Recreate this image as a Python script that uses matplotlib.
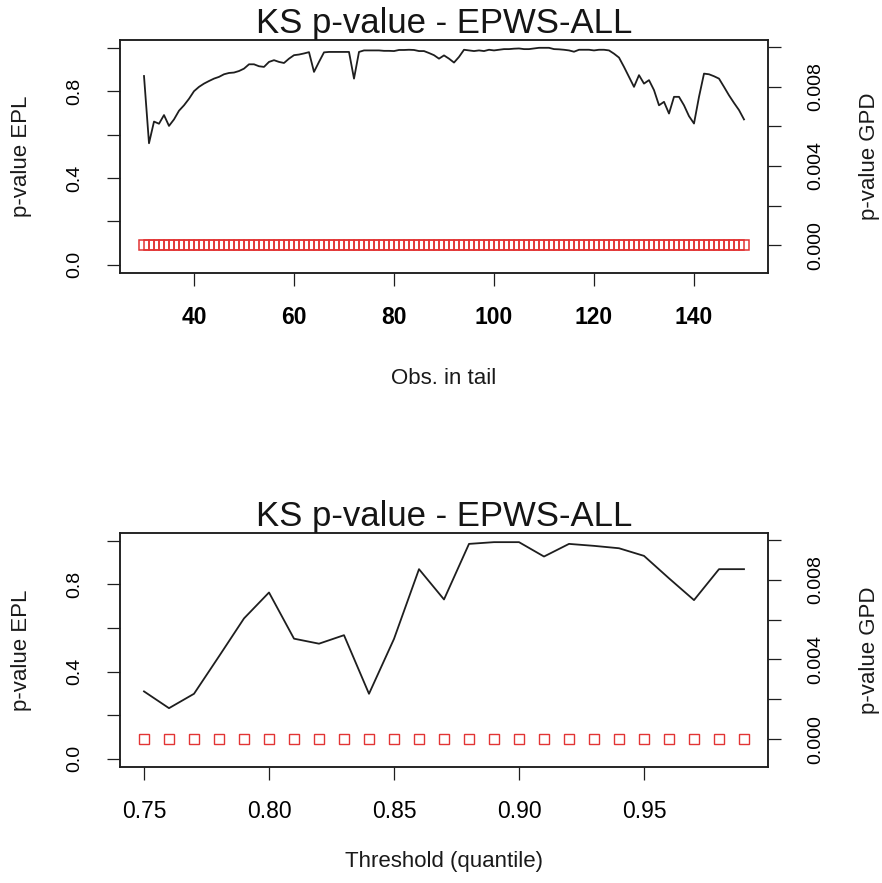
import matplotlib
matplotlib.use("Agg")
import matplotlib.pyplot as plt

plt.rcParams["font.family"] = ["Liberation Sans", "DejaVu Sans"]

# ---- data ----
obs_tail = list(range(30, 151))
epl_obs = [0.87, 0.56, 0.66, 0.65, 0.69, 0.64, 0.67, 0.71, 0.735, 0.765,
           0.80, 0.82, 0.835, 0.847, 0.858, 0.866, 0.878, 0.884, 0.886, 0.893,
           0.904, 0.924, 0.924, 0.915, 0.912, 0.935, 0.943, 0.935, 0.930, 0.950,
           0.966, 0.969, 0.974, 0.980, 0.889, 0.935, 0.979, 0.981, 0.981, 0.981,
           0.981, 0.981, 0.858, 0.981, 0.988, 0.988, 0.988, 0.988, 0.986, 0.986,
           0.985, 0.990, 0.990, 0.991, 0.990, 0.985, 0.985, 0.976, 0.966, 0.950,
           0.965, 0.950, 0.932, 0.958, 0.991, 0.988, 0.985, 0.988, 0.985, 0.991,
           0.988, 0.991, 0.994, 0.994, 0.996, 0.997, 0.994, 0.994, 0.997, 1.000,
           1.000, 1.000, 0.994, 0.993, 0.991, 0.988, 0.982, 0.991, 0.991, 0.991,
           0.988, 0.991, 0.991, 0.988, 0.973, 0.955, 0.912, 0.866, 0.820, 0.874,
           0.835, 0.851, 0.805, 0.735, 0.751, 0.697, 0.774, 0.774, 0.735, 0.685,
           0.651, 0.774, 0.881, 0.878, 0.869, 0.858, 0.820, 0.781, 0.746, 0.713,
           0.670]
gpd_obs = [0.0] * len(obs_tail)

thresholds = [0.75, 0.76, 0.77, 0.78, 0.79, 0.80, 0.81, 0.82, 0.83, 0.84,
              0.85, 0.86, 0.87, 0.88, 0.89, 0.90, 0.91, 0.92, 0.93, 0.94,
              0.95, 0.96, 0.97, 0.98, 0.99]
epl_thr = [0.309, 0.232, 0.298, 0.47, 0.644, 0.763, 0.551, 0.528, 0.567, 0.298,
           0.55, 0.870, 0.731, 0.986, 0.994, 0.994, 0.928, 0.986, 0.977, 0.966,
           0.931, 0.828, 0.728, 0.870, 0.870]
gpd_thr = [0.0] * len(thresholds)

title = "KS p-value - EPWS-ALL"
W, H = 882, 883
RED = "#e23434"
INK = "#1e1e1e"


def rect(l, t, r, b):
    return [l / W, 1 - b / H, (r - l) / W, (b - t) / H]


fig = plt.figure(figsize=(W / 100, H / 100), dpi=100)


def panel(box, x, epl, gpd, xlim, xticks, xticklabels, xbold, xlabel, top):
    ax = fig.add_axes(rect(*box))
    ax.plot(x, epl, color=INK, lw=1.3, zorder=3)
    ax.set_xlim(*xlim)
    ax.set_ylim(-0.038, 1.036)
    ax.set_xticks(xticks)
    ax.set_xticklabels(xticklabels, fontsize=16.5,
                       fontweight="bold" if xbold else "normal", va="center")
    ax.set_yticks([0.0, 0.2, 0.4, 0.6, 0.8, 1.0])
    ax.set_yticklabels(["0.0", "", "0.4", "", "0.8", ""], rotation=90,
                       ha="center", va="center", fontsize=14)
    ax.tick_params(axis="x", direction="out", length=9.4, width=0.9,
                   color=INK, pad=23)
    ax.tick_params(axis="y", direction="out", length=9.4, width=0.9,
                   color=INK, pad=23)
    for s in ax.spines.values():
        s.set_color(INK)
        s.set_linewidth(1.1)

    ax2 = ax.twinx()
    ax2.plot(x, gpd, ls="", marker="s", ms=7, mfc="none", mec=RED,
             mew=1.1 if top else 1.0)
    ax2.set_ylim(-0.0014, 0.01035)
    ax2.set_yticks([0.0, 0.002, 0.004, 0.006, 0.008, 0.010])
    ax2.set_yticklabels(["0.000", "", "0.004", "", "0.008", ""], rotation=90,
                        ha="center", va="center", fontsize=14)
    ax2.tick_params(axis="y", direction="out", length=9.4, width=0.9,
                    color=INK, pad=24.8)
    for s in ax2.spines.values():
        s.set_color(INK)
        s.set_linewidth(1.1)

    cx = (box[0] + box[2]) / 2
    cy = (box[1] + box[3]) / 2
    fig.text(cx / W, 1 - (box[1] - 7) / H, title, ha="center",
             va="baseline", fontsize=25, color="#151515")
    fig.text(cx / W, 1 - (box[3] + (105 if top else 95)) / H, xlabel,
             ha="center", va="center", fontsize=16, color="#1a1a1a")
    fig.text(22 / W, 1 - cy / H, "p-value EPL", rotation=90, ha="center",
             va="center", fontsize=16, color="#1a1a1a")
    fig.text(869 / W, 1 - cy / H, "p-value GPD", rotation=90, ha="center",
             va="center", fontsize=16, color="#1a1a1a")
    return ax, ax2


panel((120, 40, 768, 273), obs_tail, epl_obs, gpd_obs, (25.2, 154.8),
      [40, 60, 80, 100, 120, 140], ["40", "60", "80", "100", "120", "140"],
      True, "Obs. in tail", True)
panel((120, 533, 768, 767), thresholds, epl_thr, gpd_thr, (0.7404, 0.9996),
      [0.75, 0.80, 0.85, 0.90, 0.95], ["0.75", "0.80", "0.85", "0.90", "0.95"],
      False, "Threshold (quantile)", False)

fig.savefig("out.png", dpi=100)
